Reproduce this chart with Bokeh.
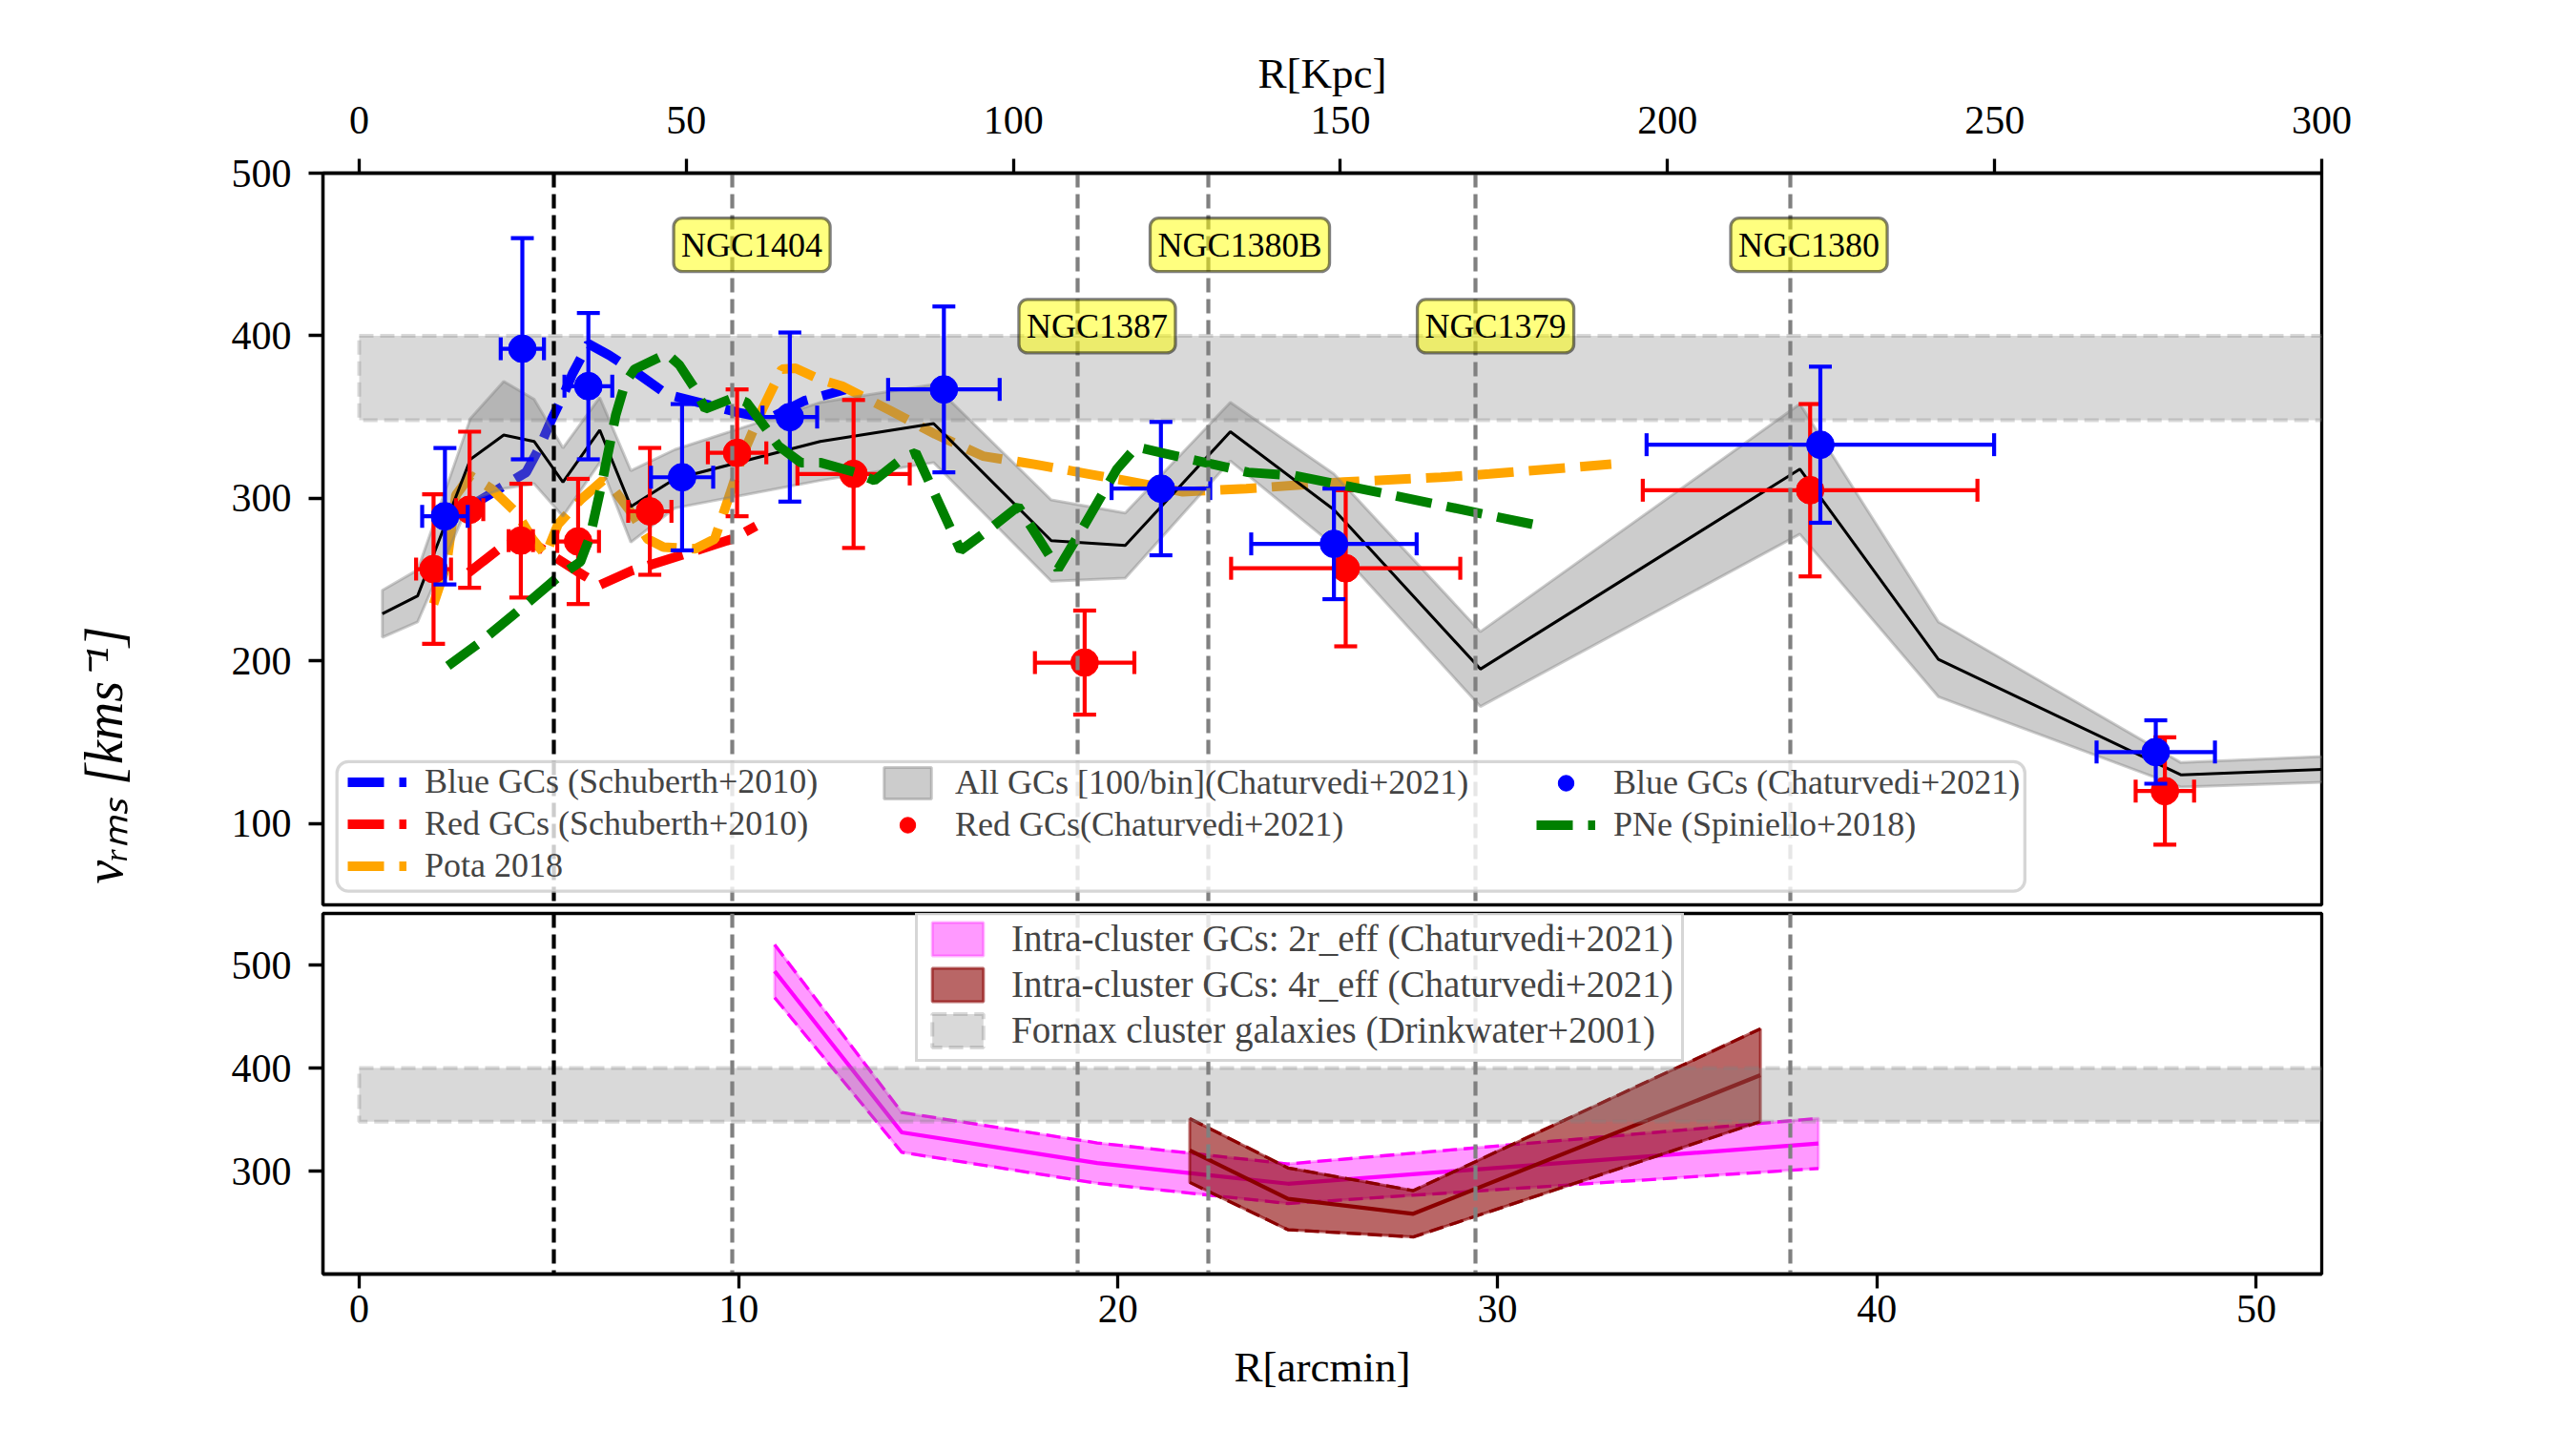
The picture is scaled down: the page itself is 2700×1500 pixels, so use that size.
import numpy as np
from bokeh.plotting import figure
from bokeh.models import (Range1d, LinearAxis, FixedTicker, Legend, LegendItem,
                          Label, BoxAnnotation)
from bokeh.layouts import column, row
from bokeh.embed import file_html
from bokeh.resources import INLINE

FONT = "Liberation Serif"

# ------------------------------------------------------------------ data
kpc_per_arcmin = 5.8
x_limits = [-0.955, 51.7242]        # arcmin
y_limits_top = [50, 500]
y_limits_bot = [200, 550]

# All GCs [100/bin] (Chaturvedi+2021)
all_r = [0.61, 1.54, 2.93, 3.81, 4.61, 5.37, 6.34, 7.16, 8.32, 12.15, 15.14, 18.24,
         20.19, 22.96, 25.69, 29.55, 37.97, 41.62, 48.01, 52.5]
all_v = [229, 240, 324, 339, 335, 310, 342, 295, 312, 335, 346, 274,
         271, 341, 293, 195, 318, 201, 130, 134]
all_e = [14.5, 16, 25, 33, 26, 21, 20, 22, 18, 24, 24, 25,
         20, 18, 22, 23, 40, 23, 7.5, 8]

# Blue GCs (Chaturvedi+2021)
bc_r = [2.26, 4.30, 6.04, 8.51, 11.35, 15.41, 21.13, 25.69, 38.51, 47.35]
bc_v = [289, 392, 369, 313, 350, 367, 306, 272, 333, 144]
bc_xe = [0.6, 0.57, 0.63, 0.82, 0.72, 1.47, 1.3, 2.18, 4.58, 1.56]
bc_ye = [42, 68, 45, 45, 52, 51, 41, 34, 48, 19.5]

# Red GCs (Chaturvedi+2021)
rc_r = [1.96, 2.91, 4.26, 5.77, 7.66, 9.96, 13.03, 19.12, 26.0, 38.24, 47.59]
rc_v = [256.5, 293, 274, 273.5, 292, 328, 315, 199, 257, 305, 120]
rc_xe = [0.46, 0.36, 0.32, 0.55, 0.57, 0.77, 1.48, 1.31, 3.02, 4.41, 0.77]
rc_ye = [46, 48, 35, 38.5, 39, 39, 45.5, 32, 48, 53, 33]

# Blue GCs (Schuberth+2010)
bs_r = [2.95, 4.4, 4.74, 5.08, 5.41, 5.62, 6.04, 6.59, 7.35, 8.11, 8.95, 9.96, 10.8, 11.73, 12.82]
bs_v = [295.5, 316, 330.7, 349, 365, 376.6, 395, 388, 376.6, 364, 359, 353, 349, 360, 367]

# Red GCs (Schuberth+2010)
rs_r = [2.89, 3.69, 4.4, 5.08, 5.92, 6.34, 7.18, 8.53, 9.83, 10.46]
rs_v = [254.5, 269, 275, 265, 252.6, 246.7, 255.5, 265.3, 275, 283]

# Pota 2018
po_r = [1.96, 2.3, 2.55, 2.93, 3.48, 4.15, 4.57, 4.91, 5.24, 5.83, 6.42, 6.76, 7.18, 7.6,
        8.02, 8.86, 9.37, 9.79, 10.13, 10.63, 11.14, 11.5, 12.15, 12.73, 14.0, 15.18,
        16.44, 17.79, 19.22, 20.65, 21.71, 23.38, 25.94, 28.51, 29.79, 33.0]
po_v = [235, 259, 302, 314, 306, 291, 275, 265, 284, 299, 311, 304, 291, 275,
        270, 269, 275, 304, 328, 355, 379.5, 380, 373, 369, 354, 339.5,
        326, 321, 315, 309, 304, 306, 310, 313, 315, 321]

# PNe (Spiniello+2018)
pn_r = [2.34, 3.14, 4.15, 5.24, 5.83, 6.09, 6.42, 6.76, 7.01, 7.26, 8.11, 8.44, 8.86,
        9.12, 9.88, 10.21, 10.72, 11.06, 11.64, 12.15, 13.07, 13.58, 14.34, 14.67,
        15.85, 16.61, 17.37, 18.42, 19.05, 19.97, 20.48, 21.15, 22.5, 23.43, 24.66,
        27.22, 30.94]
pn_v = [197, 210.6, 230, 251.6, 261, 277, 312, 351, 371, 379.5, 389, 382, 367,
        355, 362, 359, 343, 332, 322, 322, 316, 311, 325, 328,
        268, 281, 295, 256.5, 281, 318, 331.6, 328, 321, 316, 314,
        302, 284]

# Intra-cluster GCs 2 r_eff and 4 r_eff (Chaturvedi+2021)
ic2_r = [10.95, 14.3, 19.45, 24.48, 38.46]
ic2_v = [494, 337.5, 307.7, 287.7, 326.8]
ic2_e = [25.7, 19.3, 19.6, 19.2, 24.3]
ic4_r = [21.89, 24.48, 27.78, 36.93]
ic4_v = [320, 273, 258.5, 393]
ic4_e = [31, 30, 22.5, 45]

# Fornax cluster galaxies (Drinkwater+2001)
dw_sigma, dw_err = 374, 26
dw_extent = [0, 55]

# Galaxies
core_r = 5.14
gal_names = ["NGC1404", "NGC1387", "NGC1380B", "NGC1379", "NGC1380"]
gal_r = [9.82, 18.93, 22.39, 29.43, 37.71]
gal_label_r = [10.35, 19.45, 23.21, 29.95, 38.21]
gal_label_v = [450, 400, 450, 400, 450]

xticks = [0, 10, 20, 30, 40, 50]
kpc_ticks = [0, 50, 100, 150, 200, 250, 300]
yticks_top = [100, 200, 300, 400, 500]
yticks_bot = [300, 400, 500]

# ------------------------------------------------------------------ helpers
TOTAL_W, TOTAL_H = 2684, 1484
LEFT_W = 150
W = TOTAL_W - LEFT_W
DASH_THICK = "38 16"
DASH_THIN = "15 7"


def style(p):
    p.grid.visible = False
    p.outline_line_color = "black"
    p.outline_line_width = 3.3
    p.background_fill_color = "white"
    p.border_fill_color = "white"
    for ax in p.axis:
        ax.axis_line_width = 3.3
        ax.major_tick_line_width = 3.3
        ax.major_tick_out = 15
        ax.major_tick_in = 0
        ax.minor_tick_line_color = None
        ax.major_label_text_font = FONT
        ax.major_label_text_font_size = "42px"
        ax.major_label_text_color = "black"
        ax.axis_label_text_font = FONT
        ax.axis_label_text_font_size = "45px"
        ax.axis_label_text_font_style = "normal"
        ax.axis_label_text_color = "black"


def band(p, r, v, e, **kw):
    r = list(r)
    up = [a + b for a, b in zip(v, e)]
    lo = [a - b for a, b in zip(v, e)]
    return p.patch(r + r[::-1], up + lo[::-1], **kw), up, lo


def drinkwater(p):
    xs = [dw_extent[0], dw_extent[1], dw_extent[1], dw_extent[0]]
    ys = [dw_sigma + dw_err, dw_sigma + dw_err, dw_sigma - dw_err, dw_sigma - dw_err]
    return p.patch(xs, ys, fill_color="gray", fill_alpha=0.3, line_color="gray",
                   line_alpha=0.3, line_width=4, line_dash=DASH_THIN)


def errpoints(p, r, v, xe, ye, color):
    r = np.array(r); v = np.array(v); xe = np.array(xe); ye = np.array(ye)
    p.segment(x0=r, y0=v - ye, x1=r, y1=v + ye, line_color=color, line_width=4.2)
    p.segment(x0=r - xe, y0=v, x1=r + xe, y1=v, line_color=color, line_width=4.2)
    for yy in (v - ye, v + ye):
        p.scatter(r, yy, marker="dash", size=24, line_color=color, line_width=4.2)
    for xx in (r - xe, r + xe):
        p.scatter(xx, v, marker="dash", size=24, angle=np.pi / 2, line_color=color, line_width=4.2)
    return p.scatter(r, v, marker="circle", size=29, fill_color=color, line_color=color)


def vlines(p):
    p.vspan(x=[core_r], line_color="black", line_width=4.2, line_dash=DASH_THIN)
    p.vspan(x=gal_r, line_color="gray", line_width=4.2, line_dash=DASH_THIN)


# ------------------------------------------------------------------ top panel
p1 = figure(width=W, height=952, x_range=Range1d(*x_limits), y_range=Range1d(*y_limits_top),
            output_backend="svg", toolbar_location=None, x_axis_location=None,
            min_border_left=188, min_border_right=251, min_border_top=181, min_border_bottom=4)
p1.extra_x_ranges = {"kpc": Range1d(x_limits[0] * kpc_per_arcmin, x_limits[1] * kpc_per_arcmin)}
top_ax = LinearAxis(x_range_name="kpc", ticker=FixedTicker(ticks=kpc_ticks), axis_label="R[Kpc]")
p1.add_layout(top_ax, "above")
p1.yaxis.ticker = FixedTicker(ticks=yticks_top)
style(p1)
top_ax.major_label_standoff = 27
top_ax.axis_label_standoff = 7
p1.yaxis.major_label_standoff = 18

drinkwater(p1)
r_bs = p1.line(bs_r, bs_v, line_color="blue", line_width=10, line_dash=DASH_THICK)
r_rs = p1.line(rs_r, rs_v, line_color="red", line_width=10, line_dash=DASH_THICK)
r_po = p1.line(po_r, po_v, line_color="orange", line_width=10, line_dash=DASH_THICK)
r_all, _, _ = band(p1, all_r, all_v, all_e, fill_color="gray", fill_alpha=0.4,
                   line_color="gray", line_alpha=0.4, line_width=3)
p1.line(all_r, all_v, line_color="black", line_width=3)
r_rc = errpoints(p1, rc_r, rc_v, rc_xe, rc_ye, "red")
r_bc = errpoints(p1, bc_r, bc_v, bc_xe, bc_ye, "blue")
r_pn = p1.line(pn_r, pn_v, line_color="green", line_width=10, line_dash=DASH_THICK)
vlines(p1)

for name, lx, ly in zip(gal_names, gal_label_r, gal_label_v):
    p1.add_layout(Label(x=lx, y=ly, y_offset=10, text=name, text_align="center",
                        text_baseline="alphabetic",
                        text_font=FONT, text_font_size="36px", text_color="black",
                        background_fill_color="yellow", background_fill_alpha=0.5,
                        border_line_color="black", border_line_alpha=0.5, border_line_width=3.3,
                        padding=8, border_radius=9))

# legend frame + three columns
p1.add_layout(BoxAnnotation(left=-0.586, right=43.9, bottom=58.4, top=138.1,
                            fill_color="white", fill_alpha=0.8, line_color="#cccccc",
                            line_alpha=0.8, line_width=3.3, border_radius=12))


def leg(items, loc):
    return Legend(items=[LegendItem(label=t, renderers=r) for t, r in items], location=loc,
                  orientation="vertical", padding=0, spacing=2, margin=0,
                  glyph_width=62, glyph_height=41, label_height=41, label_standoff=19,
                  label_text_font=FONT, label_text_font_size="36px",
                  border_line_alpha=0, background_fill_alpha=0)


p1.add_layout(leg([("Blue GCs (Schuberth+2010)", [r_bs]),
                   ("Red GCs (Schuberth+2010)", [r_rs]),
                   ("Pota 2018", [r_po])], (26, 20)), "center")
p1.add_layout(leg([("All GCs [100/bin](Chaturvedi+2021)", [r_all]),
                   ("Red GCs(Chaturvedi+2021)", [r_rc])], (582, 63)), "center")
p1.add_layout(leg([("Blue GCs (Chaturvedi+2021)", [r_bc]),
                   ("PNe (Spiniello+2018)", [r_pn])], (1272, 63)), "center")

# ------------------------------------------------------------------ bottom panel
p2 = figure(width=W, height=TOTAL_H - 952, x_range=p1.x_range, y_range=Range1d(*y_limits_bot),
            output_backend="svg", toolbar_location=None,
            min_border_left=188, min_border_right=251, min_border_top=5, min_border_bottom=149)
p2.xaxis.ticker = FixedTicker(ticks=xticks)
p2.yaxis.ticker = FixedTicker(ticks=yticks_bot)
p2.xaxis.axis_label = "R[arcmin]"
style(p2)
p2.xaxis.major_label_standoff = 7
p2.xaxis.axis_label_standoff = 19
p2.yaxis.major_label_standoff = 18

r_ic2, up2, lo2 = band(p2, ic2_r, ic2_v, ic2_e, fill_color="magenta", fill_alpha=0.4,
                       line_color="magenta", line_alpha=0.3, line_width=3)
p2.line(ic2_r, up2, line_color="magenta", line_width=3.3, line_dash=DASH_THIN)
p2.line(ic2_r, lo2, line_color="magenta", line_width=3.3, line_dash=DASH_THIN)
p2.line(ic2_r, ic2_v, line_color="magenta", line_width=4.2)

r_ic4, up4, lo4 = band(p2, ic4_r, ic4_v, ic4_e, fill_color="darkred", fill_alpha=0.6,
                       line_color="darkred", line_alpha=0.6, line_width=3)
p2.line(ic4_r, up4, line_color="darkred", line_width=3.3, line_dash=DASH_THIN)
p2.line(ic4_r, lo4, line_color="darkred", line_width=3.3, line_dash=DASH_THIN)
p2.line(ic4_r, ic4_v, line_color="darkred", line_width=4.2)

r_dw = drinkwater(p2)
vlines(p2)

p2.add_layout(Legend(items=[
    LegendItem(label="Intra-cluster GCs: 2r_eff (Chaturvedi+2021)", renderers=[r_ic2]),
    LegendItem(label="Intra-cluster GCs: 4r_eff (Chaturvedi+2021)", renderers=[r_ic4]),
    LegendItem(label="Fornax cluster galaxies (Drinkwater+2001)", renderers=[r_dw])],
    location=(621, 222), orientation="vertical", padding=8, spacing=3, margin=0,
    glyph_width=67, glyph_height=44, label_height=44, label_standoff=23,
    label_text_font=FONT, label_text_font_size="39px",
    border_line_color="#cccccc", border_line_alpha=0.8, border_line_width=3.3,
    background_fill_color="white", background_fill_alpha=0.8), "center")

# ------------------------------------------------------------------ shared y label (left strip)
pl = figure(width=LEFT_W, height=TOTAL_H, x_range=Range1d(0, LEFT_W), y_range=Range1d(0, TOTAL_H),
            output_backend="svg", toolbar_location=None, x_axis_location=None,
            y_axis_location=None, min_border=0, outline_line_color=None)
pl.grid.visible = False
pl.border_fill_color = "white"
pl.add_layout(Label(x=108, y=TOTAL_H - 784, text="vᵣₘₛ  [kms⁻¹]", angle=np.pi / 2,
                    text_align="center", text_baseline="middle", text_font=FONT,
                    text_font_size="56px", text_font_style="italic", text_color="black"))

layout = row(pl, column(p1, p2, spacing=0), spacing=0)
open("out.html", "w").write(file_html(layout, INLINE))
